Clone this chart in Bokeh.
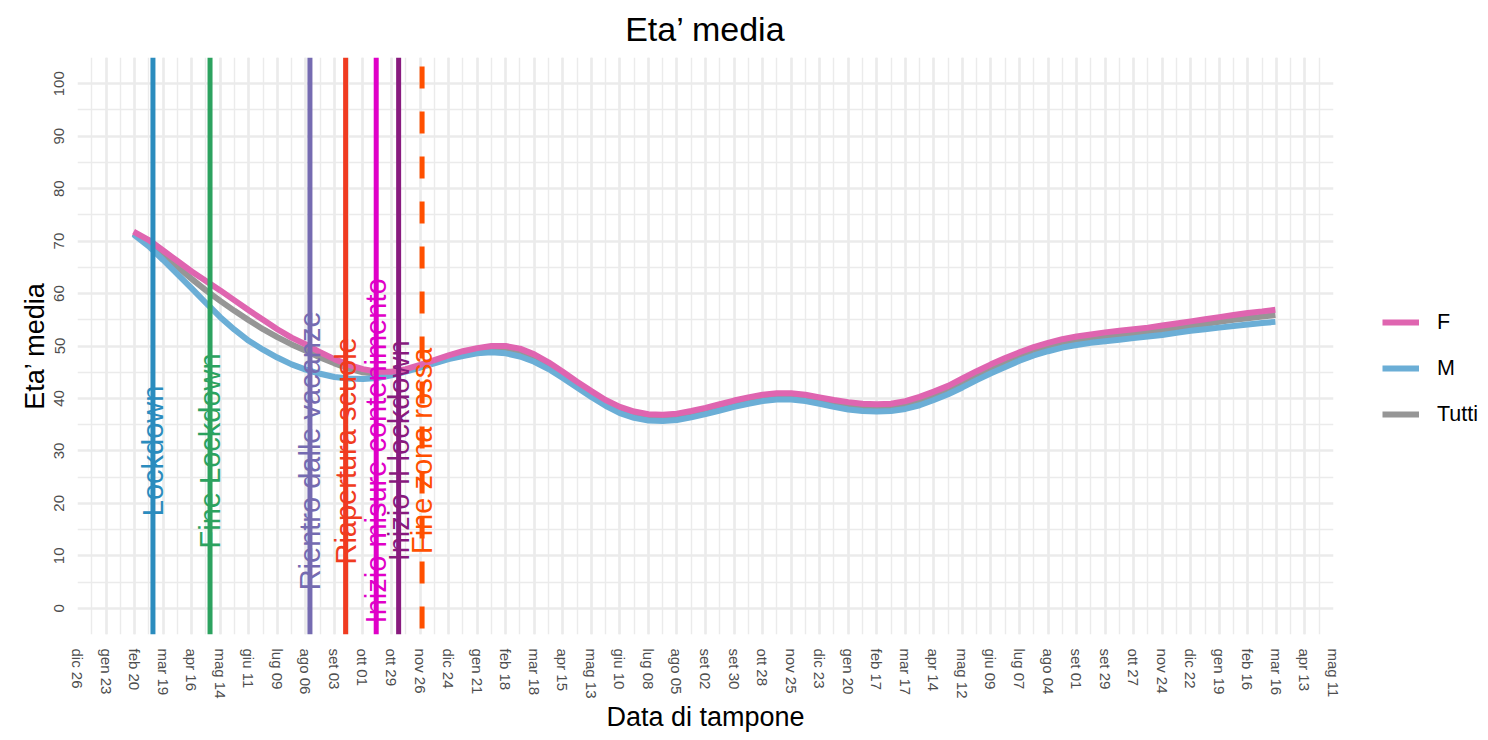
import math
import pandas as pd
from bokeh.plotting import figure
from bokeh.layouts import row
from bokeh.models import FixedTicker, Range1d, Legend, LegendItem, ColumnDataSource
from bokeh.core.properties import value
from bokeh.embed import file_html
from bokeh.resources import INLINE

FONT = "Liberation Sans"

# ---------------- data ----------------
dates = [
    "2020-02-19", "2020-03-05", "2020-03-19", "2020-04-02", "2020-04-16", "2020-04-30", "2020-05-14",
    "2020-05-28", "2020-06-11", "2020-06-25", "2020-07-09", "2020-07-23", "2020-08-06", "2020-08-20",
    "2020-09-03", "2020-09-17", "2020-10-01", "2020-10-15", "2020-10-29", "2020-11-12", "2020-11-26",
    "2020-12-10", "2020-12-24",
    "2021-01-07", "2021-01-21", "2021-02-04", "2021-02-18", "2021-03-04", "2021-03-18", "2021-04-01",
    "2021-04-15", "2021-04-29", "2021-05-13", "2021-05-27", "2021-06-10", "2021-06-24", "2021-07-08",
    "2021-07-22", "2021-08-05", "2021-08-19", "2021-09-02", "2021-09-16", "2021-09-30", "2021-10-14",
    "2021-10-28", "2021-11-11", "2021-11-25", "2021-12-09", "2021-12-23",
    "2022-01-06", "2022-01-20", "2022-02-03", "2022-02-17", "2022-03-03", "2022-03-17", "2022-03-31",
    "2022-04-14", "2022-04-28", "2022-05-12", "2022-05-26", "2022-06-09", "2022-06-23", "2022-07-07",
    "2022-07-21", "2022-08-04", "2022-08-18", "2022-09-01", "2022-09-15", "2022-09-29", "2022-10-13",
    "2022-10-27", "2022-11-10", "2022-11-24", "2022-12-08", "2022-12-22",
    "2023-01-05", "2023-01-19", "2023-02-02", "2023-02-16", "2023-03-02", "2023-03-15",
]

eta_F = [
    71.8, 70.2, 68.2, 66.2, 64.2, 62.4, 60.6, 58.7, 56.8, 55.0, 53.2, 51.6, 50.3, 48.8, 47.5, 46.4,
    45.6, 45.1, 45.1, 45.6, 46.4, 47.3, 48.2,
    49.0, 49.6, 50.0, 50.0, 49.5, 48.4, 46.9, 45.1, 43.2, 41.4, 39.7, 38.4, 37.5, 37.0, 36.9, 37.1,
    37.6, 38.2, 38.9, 39.6, 40.2, 40.7, 41.0, 41.0, 40.7, 40.2,
    39.7, 39.3, 39.0, 38.9, 39.0, 39.5, 40.3, 41.3, 42.4, 43.8, 45.2, 46.5, 47.7, 48.8, 49.8, 50.6,
    51.3, 51.8, 52.2, 52.6, 52.9, 53.2, 53.5, 53.9, 54.3, 54.7,
    55.1, 55.5, 55.9, 56.3, 56.6, 56.9,
]

eta_M = [
    71.3, 69.0, 66.4, 63.7, 61.0, 58.2, 55.5, 53.1, 51.0, 49.3, 47.8, 46.5, 45.5, 44.7, 44.1, 43.8,
    43.7, 43.9, 44.4, 45.1, 45.9, 46.7, 47.5,
    48.1, 48.6, 48.8, 48.6, 48.0, 47.0, 45.6, 43.9, 42.1, 40.3, 38.6, 37.2, 36.3, 35.8, 35.7, 35.9,
    36.4, 37.0, 37.7, 38.4, 39.0, 39.5, 39.8, 39.8, 39.5, 39.0,
    38.4, 37.9, 37.6, 37.5, 37.6, 38.0, 38.7, 39.7, 40.8, 42.1, 43.5, 44.8, 46.0, 47.2, 48.2, 49.0,
    49.7, 50.2, 50.6, 50.9, 51.2, 51.5, 51.8, 52.1, 52.5, 52.9,
    53.2, 53.5, 53.8, 54.1, 54.4, 54.6,
]

eta_Tutti = [
    71.5, 69.7, 67.4, 65.1, 62.8, 60.6, 58.6, 56.7, 54.9, 53.2, 51.7, 50.3, 49.1, 47.8, 46.7, 45.7,
    45.0, 44.7, 44.8, 45.3, 46.1, 47.0, 47.9,
    48.6, 49.2, 49.4, 49.4, 48.9, 47.8, 46.3, 44.6, 42.7, 40.9, 39.2, 37.9, 37.0, 36.5, 36.4, 36.6,
    37.1, 37.7, 38.4, 39.1, 39.7, 40.2, 40.5, 40.5, 40.2, 39.7,
    39.1, 38.6, 38.3, 38.2, 38.3, 38.8, 39.5, 40.5, 41.6, 43.0, 44.4, 45.7, 46.9, 48.0, 49.0, 49.8,
    50.5, 51.0, 51.4, 51.8, 52.1, 52.4, 52.7, 53.0, 53.4, 53.8,
    54.2, 54.6, 55.0, 55.3, 55.6, 55.9,
]

event_dates = ["2020-03-09", "2020-05-04", "2020-08-10", "2020-09-14", "2020-10-14", "2020-11-05", "2020-11-28"]
event_labels = ["Lockdown", "Fine Lockdown", "Rientro dalle vacanze", "Riapertura scuole",
                "Inizio misure contenimento", "Inizio II lockdown", "Fine zona rossa"]
event_colors = ["#2b8cbe", "#2ca25f", "#756bb1", "#f03b20", "#e000c8", "#881a7e", "#ff5000"]
event_dashed = [False, False, False, False, False, False, True]

tick_start = "2019-12-26"
tick_end = "2023-05-11"
tick_labels = ["dic 26", "gen 23", "feb 20", "mar 19", "apr 16", "mag 14", "giu 11", "lug 09", "ago 06",
               "set 03", "ott 01", "ott 29", "nov 26", "dic 24", "gen 21", "feb 18", "mar 18", "apr 15",
               "mag 13", "giu 10", "lug 08", "ago 05", "set 02", "set 30", "ott 28", "nov 25", "dic 23",
               "gen 20", "feb 17", "mar 17", "apr 14", "mag 12", "giu 09", "lug 07", "ago 04", "set 01",
               "set 29", "ott 27", "nov 24", "dic 22", "gen 19", "feb 16", "mar 16", "apr 13", "mag 11"]
y_ticks = [0, 10, 20, 30, 40, 50, 60, 70, 80, 90, 100]
y_minor = [-5, 5, 15, 25, 35, 45, 55, 65, 75, 85, 95, 105]

series_names = ["F", "M", "Tutti"]
series_colors = ["#df65b0", "#6baed6", "#969696"]


def ms(d):
    return int(pd.Timestamp(d).value // 10**6)


tick_ms = [ms(d) for d in pd.date_range(tick_start, tick_end, freq="28D")]
minor_ms = [ms(d) for d in pd.date_range(tick_start, tick_end, freq="14D")]

p = figure(width=1343, height=736, x_axis_type="datetime",
           x_range=Range1d(ms(tick_start), ms(tick_end)), y_range=Range1d(-5, 105),
           output_backend="svg", toolbar_location=None,
           min_border_left=77, min_border_right=10, min_border_top=57, min_border_bottom=102)
p.outline_line_color = None
p.background_fill_color = "white"
p.border_fill_color = "white"

p.title.text = "Eta\u2019 media"
p.title.align = "center"
p.title.vertical_align = "top"
p.title.text_font = FONT
p.title.text_font_size = "34px"
p.title.text_font_style = "normal"
p.title.text_color = "black"
p.title.standoff = 15

p.xaxis.ticker = FixedTicker(ticks=tick_ms, minor_ticks=minor_ms)
p.xaxis.major_label_overrides = {t: l for t, l in zip(tick_ms, tick_labels)}
p.xaxis.major_label_orientation = "vertical"
p.yaxis.ticker = FixedTicker(ticks=y_ticks, minor_ticks=y_minor)
p.yaxis.major_label_orientation = "vertical"

for ax in (p.xaxis[0], p.yaxis[0]):
    ax.axis_line_color = None
    ax.major_tick_line_color = None
    ax.minor_tick_line_color = None
    ax.major_tick_out = 0
    ax.minor_tick_out = 0
    ax.major_tick_in = 0
    ax.minor_tick_in = 0
    ax.major_label_text_font = FONT
    ax.major_label_text_font_size = "15px"
    ax.major_label_text_color = "#4d4d4d"
    ax.axis_label_text_font = FONT
    ax.axis_label_text_font_size = "27px"
    ax.axis_label_text_font_style = "normal"
    ax.axis_label_text_color = "black"

p.xaxis.axis_label = "Data di tampone"
p.yaxis.axis_label = "Eta\u2019 media"
p.xaxis.major_label_standoff = 14
p.xaxis.axis_label_standoff = 0
p.yaxis.major_label_standoff = 13
p.yaxis.axis_label_standoff = 2

for g in (p.xgrid[0], p.ygrid[0]):
    g.grid_line_color = "#ebebeb"
    g.grid_line_width = 2.6
    g.minor_grid_line_color = "#ebebeb"
    g.minor_grid_line_width = 1.4

# ---------------- series ----------------
src = ColumnDataSource(dict(x=[ms(d) for d in dates], F=eta_F, M=eta_M, Tutti=eta_Tutti))
for name, col in reversed(list(zip(series_names, series_colors))):
    p.line("x", name, source=src, line_color=col, line_width=6)

# ---------------- event lines + labels ----------------
for d, col, dashed in zip(event_dates, event_colors, event_dashed):
    x = ms(d)
    if dashed:
        p.segment(x0=[x], y0=[105], x1=[x], y1=[-5], line_color=col, line_width=5,
                  line_dash="22 23", line_dash_offset=36)
    else:
        p.segment(x0=[x], y0=[105], x1=[x], y1=[-5], line_color=col, line_width=5)

p.text(x=[ms(d) for d in event_dates], y=[30] * len(event_dates), text=event_labels,
       angle=math.pi / 2, text_align="center", text_baseline="middle",
       text_color=event_colors, text_font=value(FONT), text_font_size="29px")

# ---------------- legend panel (separate figure to the right of the plot) ----------------
# The legend's key lines reuse the same series; this panel's own range keeps them out of view.
pl = figure(width=137, height=736, output_backend="svg", toolbar_location=None,
            x_range=Range1d(0, 1), y_range=Range1d(0, 1),
            min_border_left=0, min_border_right=0, min_border_top=0, min_border_bottom=0)
pl.axis.visible = False
pl.grid.visible = False
pl.outline_line_color = None
pl.background_fill_color = "white"
pl.border_fill_color = "white"
leg_renderers = [pl.line("x", n, source=src, line_color=c, line_width=6)
                 for n, c in zip(series_names, series_colors)]

legend = Legend(items=[LegendItem(label=n, renderers=[r]) for n, r in zip(series_names, leg_renderers)],
                location=(39, 205))
legend.border_line_color = None
legend.background_fill_alpha = 0
legend.label_text_font = FONT
legend.label_text_font_size = "21.5px"
legend.label_text_color = "black"
legend.glyph_width = 37
legend.glyph_height = 30
legend.label_height = 30
legend.spacing = 16
legend.label_standoff = 18
legend.padding = 0
legend.margin = 0
pl.add_layout(legend)

layout = row(p, pl, spacing=0)
open("out.html", "w").write(file_html(layout, INLINE))
